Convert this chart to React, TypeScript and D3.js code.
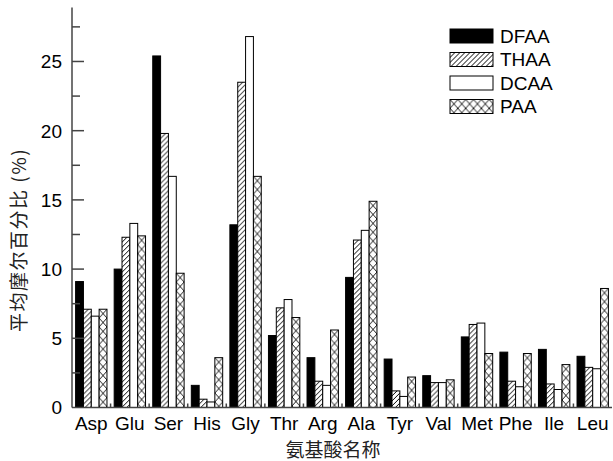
import React, { useEffect, useRef } from 'react';
import * as d3 from 'd3';

const categories = ['Asp', 'Glu', 'Ser', 'His', 'Gly', 'Thr', 'Arg', 'Ala', 'Tyr', 'Val', 'Met', 'Phe', 'Ile', 'Leu'];
const seriesNames = ['DFAA', 'THAA', 'DCAA', 'PAA'];

const dfaa = [9.1, 10.0, 25.4, 1.6, 13.2, 5.2, 3.6, 9.4, 3.5, 2.3, 5.1, 4.0, 4.2, 3.7];
const thaa = [7.1, 12.3, 19.8, 0.6, 23.5, 7.2, 1.9, 12.1, 1.2, 1.8, 6.0, 1.9, 1.7, 2.9];
const dcaa = [6.6, 13.3, 16.7, 0.4, 26.8, 7.8, 1.6, 12.8, 0.8, 1.8, 6.1, 1.5, 1.3, 2.8];
const paa = [7.1, 12.4, 9.7, 3.6, 16.7, 6.5, 5.6, 14.9, 2.2, 2.0, 3.9, 3.9, 3.1, 8.6];

const yTicks = [0, 5, 10, 15, 20, 25];
const yMinorTicks = [2.5, 7.5, 12.5, 17.5, 22.5, 27.5];

const W = 613;
const H = 461;
const LATIN = '"Liberation Sans", Arial, sans-serif';
const CJK = '"Noto Sans CJK SC", sans-serif';

export default function App() {
  const ref = useRef<SVGSVGElement>(null);

  useEffect(() => {
    if (!ref.current) return;
    const svg = d3.select(ref.current);
    svg.selectAll('*').remove();

    const left = 72;
    const right = 612;
    const top = 7.5;
    const bottom = 407.5;

    const y = d3.scaleLinear().domain([0, 28.9]).range([bottom, top]);
    const x0 = d3.scaleBand<string>().domain(categories).range([left, right]).padding(0);
    const step = x0.bandwidth();
    const x1 = d3.scaleBand<string>().domain(seriesNames).range([3.6, step - 3.6]).padding(0);
    const bw = x1.bandwidth();

    const values: Record<string, number[]> = { DFAA: dfaa, THAA: thaa, DCAA: dcaa, PAA: paa };

    // patterns
    const defs = svg.append('defs');
    const hatch = defs.append('pattern')
      .attr('id', 'hatch')
      .attr('patternUnits', 'userSpaceOnUse')
      .attr('width', 5)
      .attr('height', 5);
    hatch.append('rect').attr('width', 5).attr('height', 5).attr('fill', '#fff');
    hatch.append('path')
      .attr('d', 'M-1,1 L1,-1 M0,5 L5,0 M4,6 L6,4')
      .attr('stroke', '#000')
      .attr('stroke-width', 1);

    const cs = bw;
    const cross = defs.append('pattern')
      .attr('id', 'cross')
      .attr('patternUnits', 'userSpaceOnUse')
      .attr('width', cs)
      .attr('height', cs + 1);
    cross.append('rect').attr('width', cs).attr('height', cs + 1).attr('fill', '#fff');
    cross.append('path')
      .attr('d', `M0,0 L${cs},${cs + 1} M${cs},0 L0,${cs + 1}`)
      .attr('stroke', '#000')
      .attr('stroke-width', 0.9);

    const fills: Record<string, string> = {
      DFAA: '#000',
      THAA: 'url(#hatch)',
      DCAA: '#fff',
      PAA: 'url(#cross)',
    };

    // bars
    const groups = svg.append('g')
      .selectAll('g')
      .data(categories)
      .join('g')
      .attr('transform', (d) => `translate(${x0(d)},0)`);

    seriesNames.forEach((s) => {
      groups.append('g')
        .attr('transform', (_, i) => `translate(${x1(s)},${y(values[s][i])})`)
        .append('rect')
        .attr('x', 0)
        .attr('y', 0)
        .attr('width', bw)
        .attr('height', (_, i) => bottom - y(values[s][i]))
        .attr('fill', fills[s])
        .attr('stroke', '#000')
        .attr('stroke-width', 1);
    });

    // y axis
    const axisColor = '#444';
    svg.append('line')
      .attr('x1', left).attr('x2', left)
      .attr('y1', top).attr('y2', bottom)
      .attr('stroke', axisColor).attr('stroke-width', 1.5);
    svg.append('g').selectAll('line')
      .data(yTicks.slice(1))
      .join('line')
      .attr('x1', left).attr('x2', left + 12)
      .attr('y1', (d) => y(d)).attr('y2', (d) => y(d))
      .attr('stroke', axisColor).attr('stroke-width', 1.5);
    svg.append('g').selectAll('line')
      .data(yMinorTicks)
      .join('line')
      .attr('x1', left).attr('x2', left + 8)
      .attr('y1', (d) => y(d)).attr('y2', (d) => y(d))
      .attr('stroke', axisColor).attr('stroke-width', 1.5);
    svg.append('g').selectAll('text')
      .data(yTicks)
      .join('text')
      .attr('x', left - 10)
      .attr('y', (d) => y(d))
      .attr('dy', '0.36em')
      .attr('text-anchor', 'end')
      .attr('font-family', LATIN)
      .attr('font-size', 19)
      .attr('fill', '#000')
      .text((d) => d);

    // x axis
    svg.append('line')
      .attr('x1', left).attr('x2', right)
      .attr('y1', bottom).attr('y2', bottom)
      .attr('stroke', axisColor).attr('stroke-width', 1.5);
    svg.append('g').selectAll('line')
      .data(categories.slice(1))
      .join('line')
      .attr('x1', (d) => x0(d)!).attr('x2', (d) => x0(d)!)
      .attr('y1', bottom).attr('y2', bottom - 4)
      .attr('stroke', axisColor).attr('stroke-width', 1.5);
    svg.append('g').selectAll('text')
      .data(categories)
      .join('text')
      .attr('x', (d) => x0(d)! + step / 2)
      .attr('y', bottom + 22)
      .attr('text-anchor', 'middle')
      .attr('font-family', LATIN)
      .attr('font-size', 19)
      .attr('fill', '#000')
      .text((d) => d);

    // axis titles
    svg.append('text')
      .attr('x', 333)
      .attr('y', 457)
      .attr('text-anchor', 'middle')
      .attr('font-family', CJK)
      .attr('font-size', 19)
      .attr('fill', '#222')
      .text('氨基酸名称');
    svg.append('text')
      .attr('transform', 'translate(26,240) rotate(-90)')
      .attr('text-anchor', 'middle')
      .attr('font-family', CJK)
      .attr('font-size', 19)
      .attr('letter-spacing', 1.5)
      .attr('fill', '#222')
      .text('平均摩尔百分比 (%)');

    // legend
    const lg = svg.append('g').attr('transform', 'translate(450,29)');
    const items = lg.selectAll('g')
      .data(seriesNames)
      .join('g')
      .attr('transform', (_, i) => `translate(0,${i * 23.5})`);
    items.append('rect')
      .attr('width', 43).attr('height', 14)
      .attr('fill', (d) => fills[d])
      .attr('stroke', '#000').attr('stroke-width', 1);
    items.append('text')
      .attr('x', 50).attr('y', 7)
      .attr('dy', '0.36em')
      .attr('font-family', LATIN)
      .attr('font-size', 19)
      .attr('fill', '#000')
      .text((d) => d);
  }, []);

  return (
    <svg
      ref={ref}
      width={W}
      height={H}
      style={{ position: 'absolute', left: 0, top: 0, background: '#fff' }}
    />
  );
}
